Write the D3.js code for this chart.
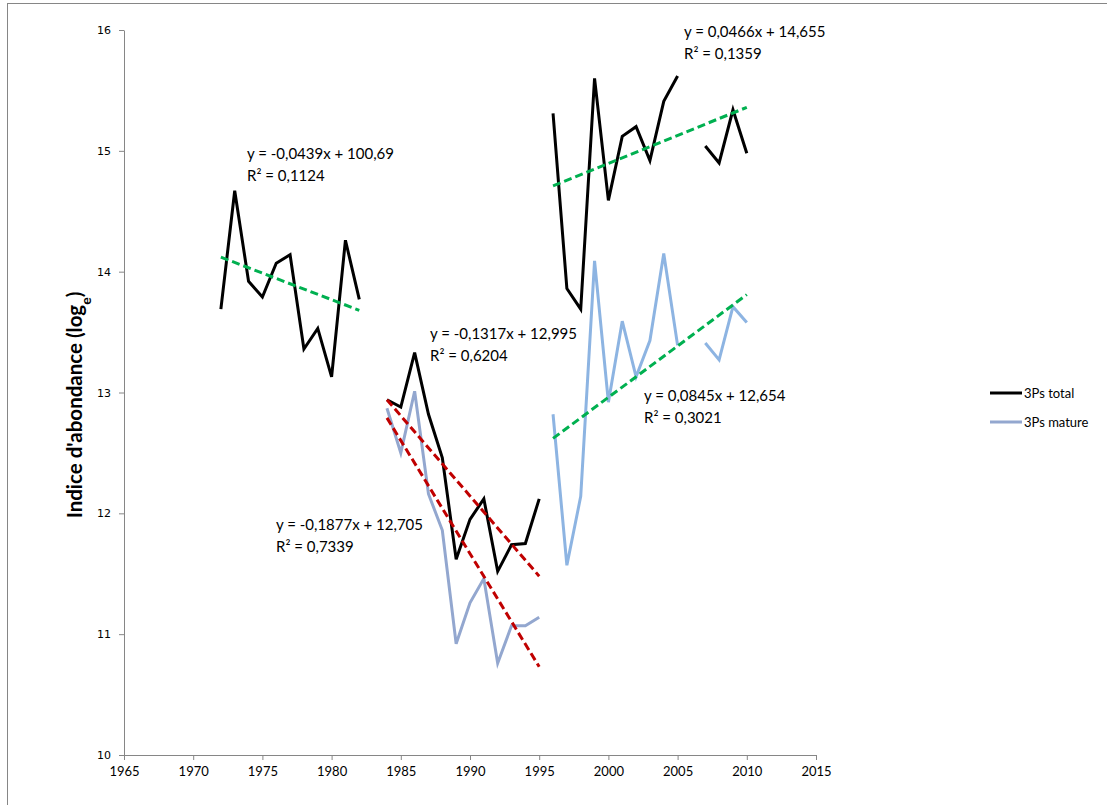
<!DOCTYPE html>
<html>
<head>
<meta charset="utf-8">
<script src="https://cdn.jsdelivr.net/npm/d3@7"></script>
<style>
  body { margin: 0; background: #fff; }
  svg { display: block; }
</style>
</head>
<body>
<div id="chart"></div>
<script>
// Years per segment (the series are broken in 1983 and 2006)
const yearsA = [1972, 1973, 1974, 1975, 1976, 1977, 1978, 1979, 1980, 1981, 1982];
const yearsB = [1984, 1985, 1986, 1987, 1988, 1989, 1990, 1991, 1992, 1993, 1994, 1995];
const yearsC = [1996, 1997, 1998, 1999, 2000, 2001, 2002, 2003, 2004, 2005, 2006, 2007, 2008, 2009, 2010];

// 3Ps total
const totalA = [13.69, 14.67, 13.92, 13.79, 14.07, 14.14, 13.36, 13.53, 13.13, 14.26, 13.77];
const totalB = [12.94, 12.88, 13.33, 12.82, 12.46, 11.62, 11.95, 12.12, 11.52, 11.74, 11.75, 12.12];
const totalC = [15.31, 13.86, 13.69, 15.60, 14.59, 15.12, 15.20, 14.92, 15.41, 15.62, null, 15.04, 14.90, 15.34, 14.98];

// 3Ps mature
const matureB = [12.87, 12.50, 13.01, 12.16, 11.86, 10.92, 11.26, 11.46, 10.76, 11.07, 11.07, 11.14];
const matureC = [12.82, 11.57, 12.14, 14.09, 12.92, 13.59, 13.13, 13.43, 14.15, 13.39, null, 13.41, 13.27, 13.71, 13.58];

// Trend lines: first / last year and fitted value at each end
const trendFrom = [1972, 1984, 1984, 1996, 1996];
const trendTo = [1982, 1995, 1995, 2010, 2010];
const trendStart = [14.12, 12.94, 12.79, 14.71, 12.62];
const trendEnd = [13.68, 11.48, 10.73, 15.36, 13.81];
const trendKind = ["up", "down", "down", "up", "up"];

// Trend equations
const eqText = ["y = -0,0439x + 100,69", "y = -0,1317x + 12,995", "y = -0,1877x + 12,705", "y = 0,0466x + 14,655", "y = 0,0845x + 12,654"];
const r2Text = ["R² = 0,1124", "R² = 0,6204", "R² = 0,7339", "R² = 0,1359", "R² = 0,3021"];

// Axis ticks
const xTicks = [1965, 1970, 1975, 1980, 1985, 1990, 1995, 2000, 2005, 2010, 2015];
const yTicks = [10, 11, 12, 13, 14, 15, 16];

const seriesNames = ["3Ps total", "3Ps mature"];

// Layout
const width = 1107, height = 805;
const plot = { left: 124, right: 816, top: 30, bottom: 755 };
const eqPos = [[247, 159], [430, 339], [276, 530], [684, 37], [644, 401]];

const colors = {
  total: "#000000",
  matureB: "#93a7cf",
  matureC: "#8db4e2",
  up: "#00b050",
  down: "#c00000",
  axis: "#868686"
};

const svg = d3.select("#chart").append("svg")
  .attr("width", width)
  .attr("height", height);

// Chart border (only the top and left edges are inside the picture)
svg.append("rect")
  .attr("x", 7.5)
  .attr("y", 3.5)
  .attr("width", width + 20)
  .attr("height", height + 20)
  .attr("fill", "none")
  .attr("stroke", colors.axis)
  .attr("stroke-width", 1);

const x = d3.scaleLinear().domain([1965, 2015]).range([plot.left, plot.right]);
const y = d3.scaleLinear().domain([10, 16]).range([plot.bottom, plot.top]);

// Y axis
const yAxis = svg.append("g")
  .attr("transform", `translate(${plot.left},0)`)
  .call(d3.axisLeft(y).tickValues(yTicks).tickSize(5).tickSizeOuter(0).tickPadding(8).tickFormat(d3.format("d")));
yAxis.select(".domain").attr("stroke", colors.axis);
yAxis.selectAll(".tick line").attr("stroke", colors.axis);
yAxis.selectAll("text")
  .style("font-family", "DejaVu Sans")
  .style("font-size", "11px")
  .attr("fill", "#000");

// X axis
const xAxis = svg.append("g")
  .attr("transform", `translate(0,${plot.bottom})`)
  .call(d3.axisBottom(x).tickValues(xTicks).tickSize(5).tickSizeOuter(0).tickPadding(7).tickFormat(d3.format("d")));
xAxis.select(".domain").attr("stroke", colors.axis);
xAxis.selectAll(".tick line").attr("stroke", colors.axis);
xAxis.selectAll("text")
  .style("font-family", "Lato")
  .style("font-size", "13px")
  .attr("fill", "#000");

// Y axis title with subscript e
const yTitle = svg.append("text")
  .attr("transform", `translate(82,405) rotate(-90)`)
  .attr("text-anchor", "middle")
  .style("font-family", "Lato")
  .style("font-weight", "bold")
  .style("font-size", "20.5px")
  .attr("fill", "#000");
yTitle.append("tspan").text("Indice d'abondance (log");
yTitle.append("tspan").attr("baseline-shift", "sub").style("font-size", "14px").text("e");
yTitle.append("tspan").text(")");

// Line generator, skips missing years
const line = d3.line()
  .defined(d => d[1] != null)
  .x(d => x(d[0]))
  .y(d => y(d[1]));

const segments = [
  { years: yearsA, values: totalA, color: colors.total },
  { years: yearsB, values: totalB, color: colors.total },
  { years: yearsC, values: totalC, color: colors.total },
  { years: yearsB, values: matureB, color: colors.matureB },
  { years: yearsC, values: matureC, color: colors.matureC }
];

// Mature first so total is drawn on top
const drawOrder = [3, 4, 0, 1, 2];
drawOrder.forEach(i => {
  const s = segments[i];
  svg.append("path")
    .datum(s.years.map((yr, j) => [yr, s.values[j]]))
    .attr("fill", "none")
    .attr("stroke", s.color)
    .attr("stroke-width", 3)
    .attr("stroke-linejoin", "miter")
    .attr("d", line);
});

// Trend lines
svg.selectAll(".trend")
  .data(trendFrom.map((f, i) => i))
  .enter()
  .append("line")
  .attr("class", "trend")
  .attr("x1", i => x(trendFrom[i]))
  .attr("x2", i => x(trendTo[i]))
  .attr("y1", i => y(trendStart[i]))
  .attr("y2", i => y(trendEnd[i]))
  .attr("stroke", i => colors[trendKind[i]])
  .attr("stroke-width", 3)
  .attr("stroke-dasharray", "8,4");

// Equation labels
const eq = svg.selectAll(".eq")
  .data(eqText.map((t, i) => i))
  .enter()
  .append("text")
  .attr("class", "eq")
  .style("font-family", "Lato")
  .style("font-size", "15px")
  .attr("fill", "#000");
eq.append("tspan")
  .attr("x", i => eqPos[i][0])
  .attr("y", i => eqPos[i][1])
  .text(i => eqText[i]);
eq.append("tspan")
  .attr("x", i => eqPos[i][0])
  .attr("y", i => eqPos[i][1] + 22)
  .text(i => r2Text[i]);

// Legend
const legendColors = [colors.total, colors.matureB];
const legend = svg.selectAll(".legend")
  .data(seriesNames)
  .enter()
  .append("g")
  .attr("class", "legend")
  .attr("transform", (d, i) => `translate(990,${393 + i * 29})`);
legend.append("line")
  .attr("x1", 0)
  .attr("x2", 32)
  .attr("stroke", (d, i) => legendColors[i])
  .attr("stroke-width", 3);
legend.append("text")
  .attr("x", 34)
  .attr("y", 4.5)
  .style("font-family", "Lato")
  .style("font-size", "13px")
  .attr("fill", "#000")
  .text(d => d);
</script>
</body>
</html>
